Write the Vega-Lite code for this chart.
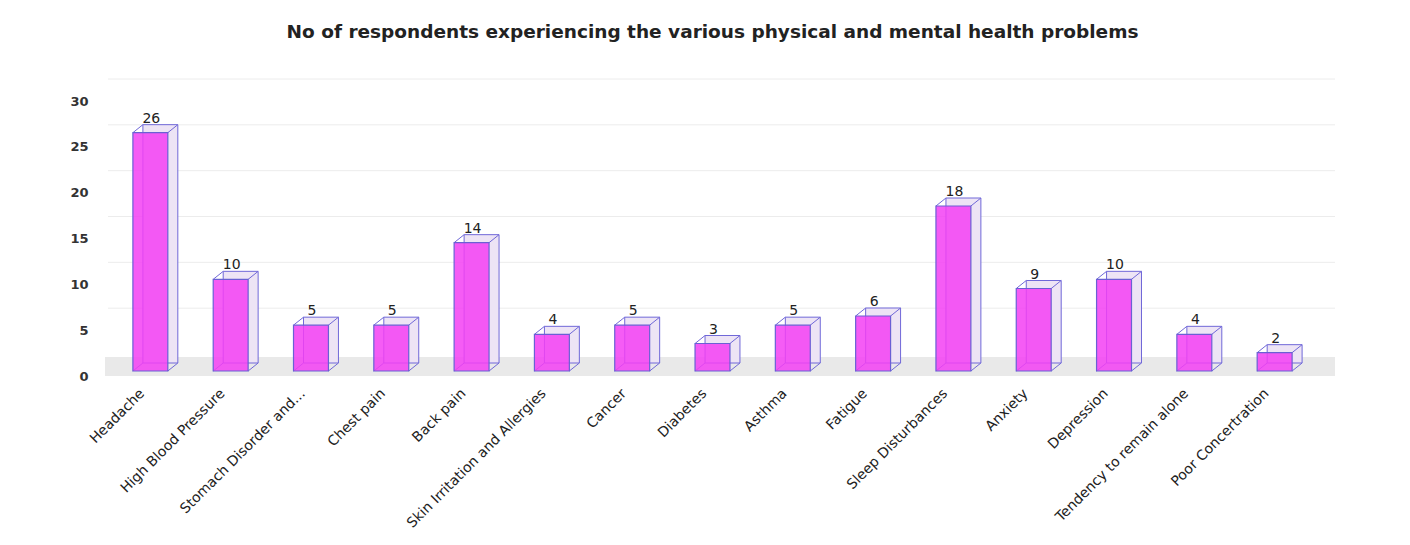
{
  "$schema": "https://vega.github.io/schema/vega-lite/v6.json",
  "width": 1209,
  "height": 275,
  "autosize": {"type": "none"},
  "padding": {"left": 108, "top": 96, "right": 93, "bottom": 174},
  "background": "white",
  "config": {"view": {"stroke": null}},
  "title": {
    "text": "No of respondents experiencing the various physical and mental health problems",
    "font": "DejaVu Sans",
    "fontSize": 18.5,
    "fontWeight": "bold",
    "color": "#222222",
    "anchor": "middle",
    "offset": 37
  },
  "datasets": {
    "problems": [
      {"problem": "Headache", "count": 26},
      {"problem": "High Blood Pressure", "count": 10},
      {"problem": "Stomach Disorder and...", "count": 5},
      {"problem": "Chest pain", "count": 5},
      {"problem": "Back pain", "count": 14},
      {"problem": "Skin Irritation and Allergies", "count": 4},
      {"problem": "Cancer", "count": 5},
      {"problem": "Diabetes", "count": 3},
      {"problem": "Asthma", "count": 5},
      {"problem": "Fatigue", "count": 6},
      {"problem": "Sleep Disturbances", "count": 18},
      {"problem": "Anxiety", "count": 9},
      {"problem": "Depression", "count": 10},
      {"problem": "Tendency to remain alone", "count": 4},
      {"problem": "Poor Concertration", "count": 2}
    ],
    "grid": [
      {"v": 5}, {"v": 10}, {"v": 15}, {"v": 20}, {"v": 25}, {"v": 30}
    ]
  },
  "data": {"name": "problems"},
  "layer": [
    {
      "mark": {"type": "rect", "color": "#e9e9e9", "xOffset": -3, "x2Offset": 18, "yOffset": 5, "y2Offset": -14},
      "encoding": {
        "x": {"value": 0},
        "x2": {"value": {"expr": "width"}},
        "y": {"datum": 0, "type": "quantitative", "scale": {"domain": [0, 30]}},
        "y2": {"datum": 0}
      }
    },
    {
      "data": {"name": "grid"},
      "mark": {"type": "rule", "color": "#ececec", "strokeWidth": 1, "xOffset": 18, "x2Offset": 18, "yOffset": -17},
      "encoding": {
        "y": {"field": "v", "type": "quantitative"}
      }
    },
    {
      "mark": {"type": "bar", "fill": "#ede4f5", "stroke": "#7068d8", "strokeWidth": 1, "xOffset": 10, "x2Offset": 10, "yOffset": -8, "y2Offset": -8},
      "encoding": {
        "x": {"field": "problem", "type": "nominal", "sort": null},
        "y": {"field": "count", "type": "quantitative"},
        "y2": {"datum": 0}
      }
    },
    {
      "mark": {"type": "rule", "color": "#7068d8", "strokeWidth": 1, "x2Offset": 10, "y2Offset": -8},
      "encoding": {
        "x": {"field": "problem", "type": "nominal", "sort": null, "bandPosition": 0},
        "x2": {"field": "problem", "bandPosition": 0},
        "y": {"field": "count", "type": "quantitative"},
        "y2": {"field": "count"}
      }
    },
    {
      "mark": {"type": "rule", "color": "#7068d8", "strokeWidth": 1, "x2Offset": 10, "y2Offset": -8},
      "encoding": {
        "x": {"field": "problem", "type": "nominal", "sort": null, "bandPosition": 1},
        "x2": {"field": "problem", "bandPosition": 1},
        "y": {"field": "count", "type": "quantitative"},
        "y2": {"field": "count"}
      }
    },
    {
      "mark": {"type": "rule", "color": "#7068d8", "strokeWidth": 1, "x2Offset": 10, "y2Offset": -8},
      "encoding": {
        "x": {"field": "problem", "type": "nominal", "sort": null, "bandPosition": 1},
        "x2": {"field": "problem", "bandPosition": 1},
        "y": {"datum": 0, "type": "quantitative"},
        "y2": {"datum": 0}
      }
    },
    {
      "mark": {"type": "rule", "color": "#7068d8", "strokeWidth": 1, "x2Offset": 10, "y2Offset": -8},
      "encoding": {
        "x": {"field": "problem", "type": "nominal", "sort": null, "bandPosition": 0},
        "x2": {"field": "problem", "bandPosition": 0},
        "y": {"datum": 0, "type": "quantitative"},
        "y2": {"datum": 0}
      }
    },
    {
      "mark": {"type": "bar", "fill": "#f340f3", "fillOpacity": 0.85, "stroke": "#6a60d4", "strokeWidth": 1.2},
      "encoding": {
        "x": {
          "field": "problem",
          "type": "nominal",
          "sort": null,
          "title": null,
          "scale": {"paddingInner": 0.565, "paddingOuter": 0.31},
          "axis": {
            "labelAngle": -45,
            "labelAlign": "right",
            "labelBaseline": "middle",
            "labelFont": "DejaVu Sans",
            "labelFontSize": 14,
            "labelColor": "#222222",
            "labelPadding": 20,
            "labelOffset": -8,
            "domain": false,
            "ticks": false,
            "labelLimit": 300
          }
        },
        "y": {
          "field": "count",
          "type": "quantitative",
          "title": null,
          "scale": {"domain": [0, 30]},
          "axis": {
            "values": [0, 5, 10, 15, 20, 25, 30],
            "grid": false,
            "domain": false,
            "ticks": false,
            "labelPadding": 20,
            "labelOffset": 5,
            "labelFont": "DejaVu Sans",
            "labelFontSize": 13,
            "labelFontWeight": "bold",
            "labelColor": "#333333"
          }
        },
        "y2": {"datum": 0}
      }
    },
    {
      "mark": {"type": "text", "font": "DejaVu Sans", "fontSize": 14, "color": "#222222", "baseline": "alphabetic", "dy": -10, "dx": 1},
      "encoding": {
        "x": {"field": "problem", "type": "nominal", "sort": null},
        "y": {"field": "count", "type": "quantitative"},
        "text": {"field": "count", "type": "quantitative"}
      }
    }
  ]
}
